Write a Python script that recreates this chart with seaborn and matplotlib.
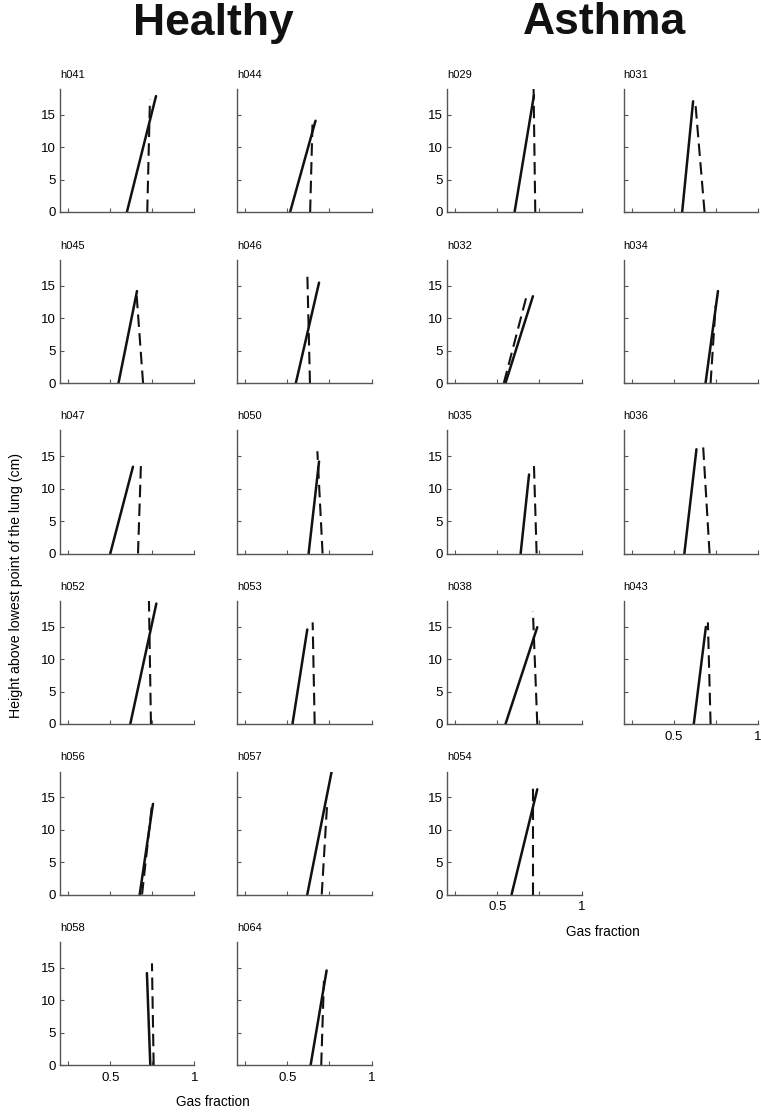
import numpy as np
import pandas as pd
import matplotlib
matplotlib.use("Agg")
import matplotlib.pyplot as plt
import seaborn as sns

# subjects, in panel order
healthy = ['h041', 'h044', 'h045', 'h046', 'h047', 'h050',
           'h052', 'h053', 'h056', 'h057', 'h058', 'h064']
asthma = ['h029', 'h031', 'h032', 'h034', 'h035', 'h036',
          'h038', 'h043', 'h054']

# solid line: gas fraction at bottom, at top, and top height (cm)
solid_bot = {'h041': 0.598, 'h044': 0.516, 'h045': 0.548, 'h046': 0.550,
             'h047': 0.499, 'h050': 0.626, 'h052': 0.618, 'h053': 0.530,
             'h056': 0.674, 'h057': 0.618, 'h058': 0.737, 'h064': 0.638,
             'h029': 0.602, 'h031': 0.549, 'h032': 0.548, 'h034': 0.688,
             'h035': 0.638, 'h036': 0.562, 'h038': 0.548, 'h043': 0.618,
             'h054': 0.584}
solid_top = {'h041': 0.771, 'h044': 0.667, 'h045': 0.658, 'h046': 0.688,
             'h047': 0.634, 'h050': 0.688, 'h052': 0.773, 'h053': 0.618,
             'h056': 0.753, 'h057': 0.763, 'h058': 0.717, 'h064': 0.733,
             'h029': 0.717, 'h031': 0.614, 'h032': 0.711, 'h034': 0.762,
             'h035': 0.688, 'h036': 0.634, 'h038': 0.737, 'h043': 0.690,
             'h054': 0.737}
solid_h = {'h041': 17.9, 'h044': 14.1, 'h045': 14.2, 'h046': 15.5,
           'h047': 13.4, 'h050': 14.2, 'h052': 18.6, 'h053': 14.6,
           'h056': 14.0, 'h057': 19.0, 'h058': 14.2, 'h064': 14.6,
           'h029': 18.0, 'h031': 17.1, 'h032': 13.4, 'h034': 14.2,
           'h035': 12.2, 'h036': 16.1, 'h038': 14.95, 'h043': 15.0,
           'h054': 16.25}

# dashed line
dash_bot = {'h041': 0.719, 'h044': 0.635, 'h045': 0.694, 'h046': 0.634,
            'h047': 0.664, 'h050': 0.709, 'h052': 0.741, 'h053': 0.662,
            'h056': 0.688, 'h057': 0.704, 'h058': 0.757, 'h064': 0.701,
            'h029': 0.725, 'h031': 0.682, 'h032': 0.538, 'h034': 0.718,
            'h035': 0.733, 'h036': 0.712, 'h038': 0.737, 'h043': 0.718,
            'h054': 0.709}
dash_top = {'h041': 0.735, 'h044': 0.649, 'h045': 0.654, 'h046': 0.618,
            'h047': 0.682, 'h050': 0.678, 'h052': 0.729, 'h053': 0.650,
            'h056': 0.747, 'h057': 0.737, 'h058': 0.747, 'h064': 0.717,
            'h029': 0.715, 'h031': 0.626, 'h032': 0.678, 'h034': 0.748,
            'h035': 0.717, 'h036': 0.672, 'h038': 0.711, 'h043': 0.702,
            'h054': 0.709}
dash_h = {'h041': 17.4, 'h044': 13.6, 'h045': 14.2, 'h046': 17.1,
          'h047': 14.2, 'h050': 15.8, 'h052': 19.0, 'h053': 15.7,
          'h056': 13.9, 'h057': 14.4, 'h058': 15.7, 'h064': 13.0,
          'h029': 19.0, 'h031': 17.3, 'h032': 13.9, 'h034': 12.0,
          'h035': 13.8, 'h036': 17.3, 'h038': 17.4, 'h043': 15.7,
          'h054': 17.1}

xticks = [0.25, 0.5, 0.75, 1.0]
xticklabels = ['', '0.5', '', '1']
yticks = [0, 5, 10, 15]

sns.set_style("white")
plt.rcParams['font.family'] = ['Liberation Sans', 'DejaVu Sans']
plt.rcParams['text.color'] = 'black'
plt.rcParams['xtick.color'] = 'black'
plt.rcParams['ytick.color'] = 'black'

W, H = 761, 1114
fig = plt.figure(figsize=(W / 100, H / 100), dpi=100)

row_tops = [89, 260, 430.5, 601, 771.5, 942]
ax_h = 123
ax_w = 134.5
spine_col = '#555555'


def draw_group(names, col_lefts):
    n = len(names)
    for i, name in enumerate(names):
        r, c = divmod(i, 2)
        L = col_lefts[c]
        T = row_tops[r]
        ax = fig.add_axes([L / W, 1 - (T + ax_h) / H, ax_w / W, ax_h / H])
        d = pd.DataFrame({
            'x': [solid_bot[name], solid_top[name], dash_bot[name], dash_top[name]],
            'y': [0, solid_h[name], 0, dash_h[name]],
            'kind': ['solid', 'solid', 'dashed', 'dashed'],
        })
        sns.lineplot(data=d[d.kind == 'solid'], x='x', y='y', ax=ax,
                     color='#111111', lw=1.8, sort=False, estimator=None)
        sns.lineplot(data=d[d.kind == 'dashed'], x='x', y='y', ax=ax,
                     color='#111111', lw=1.5, sort=False, estimator=None,
                     linestyle=(0, (6, 3)))
        ax.set_xlim(0.2, 1.0)
        ax.set_ylim(0, 19)
        ax.set_xlabel('')
        ax.set_ylabel('')
        sns.despine(ax=ax)
        for s in ['left', 'bottom']:
            ax.spines[s].set_color(spine_col)
            ax.spines[s].set_linewidth(1.0)
        ax.set_xticks(xticks)
        ax.set_yticks(yticks)
        # bottom panel of each column gets x labels
        last_in_col = (i + 2 >= n)
        ax.set_xticklabels(xticklabels if last_in_col else [''] * 4)
        ax.set_yticklabels([str(v) for v in yticks] if c == 0 else [''] * 4)
        ax.tick_params(bottom=True, left=True, direction='in', length=3,
                       width=0.8, color=spine_col, labelcolor='black',
                       labelsize=9.5, pad=3)
        ax.tick_params(axis='x', pad=5)
        ax.set_title(name, loc='left', fontsize=8, pad=8)


draw_group(healthy, [60, 237])
draw_group(asthma, [447, 623.5])

fig.text(213 / W, 1 - 23 / H, 'Healthy', ha='center', va='center',
         fontsize=32, fontweight='bold', color='#111111')
fig.text(605 / W, 1 - 23 / H, 'Asthma', ha='center', va='center',
         fontsize=32, fontweight='bold', color='#111111')
fig.text(213 / W, 1 - 1102 / H, 'Gas fraction', ha='center', va='center',
         fontsize=9.8)
fig.text(603 / W, 1 - 932 / H, 'Gas fraction', ha='center', va='center',
         fontsize=9.8)
fig.text(16 / W, 1 - 585 / H, 'Height above lowest point of the lung (cm)',
         ha='center', va='center', rotation=90, fontsize=10.2)

fig.savefig('out.png', dpi=100)
